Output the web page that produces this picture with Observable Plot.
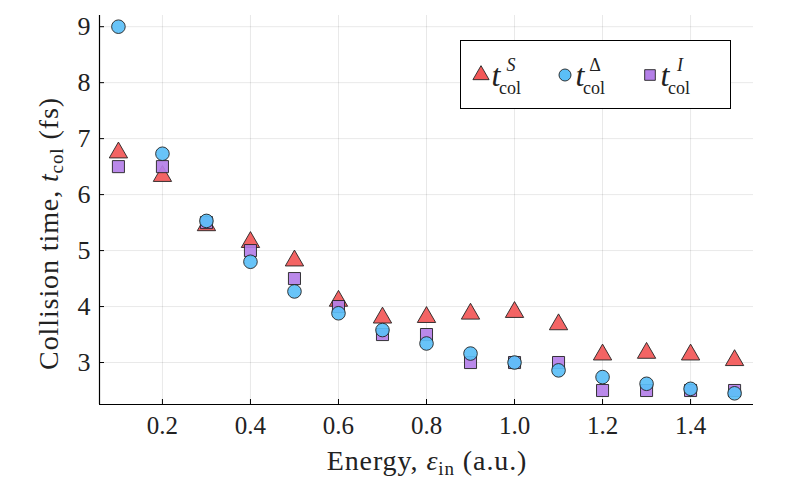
<!DOCTYPE html>
<html>
<head>
<meta charset="utf-8">
<script src="https://cdn.jsdelivr.net/npm/d3@7"></script>
<script src="https://cdn.jsdelivr.net/npm/@observablehq/plot@0.6"></script>
<style>
  html, body { margin: 0; padding: 0; background: #fff; }
  #chart { position: relative; width: 796px; height: 488px; }
  #chart svg text { font-family: "Liberation Serif", "Times New Roman", serif !important; }
</style>
</head>
<body>
<div id="chart"></div>
<script>
const energy = [0.1, 0.2, 0.3, 0.4, 0.5, 0.6, 0.7, 0.8, 0.9, 1.0, 1.1, 1.2, 1.3, 1.4, 1.5];
const tS     = [6.75, 6.33, 5.45, 5.15, 4.82, 4.10, 3.80, 3.81, 3.87, 3.90, 3.68, 3.14, 3.17, 3.14, 3.04];
const tDelta = [9.00, 6.73, 5.53, 4.80, 4.27, 3.88, 3.58, 3.34, 3.16, 3.00, 2.86, 2.74, 2.62, 2.53, 2.45];
const tI     = [6.50, 6.50, 5.50, 5.00, 4.50, 4.00, 3.50, 3.50, 3.00, 3.00, 3.00, 2.50, 2.50, 2.50, 2.50];
const xTicks = [0.2, 0.4, 0.6, 0.8, 1.0, 1.2, 1.4];
const yTicks = [3, 4, 5, 6, 7, 8, 9];

const series = [
  {key: "S", values: tS, symbol: "triangle", fill: "#f25757"},
  {key: "Δ", values: tDelta, symbol: "circle", fill: "#5bbff7"},
  {key: "I", values: tI, symbol: "square", fill: "#b47fe8"}
];
// draw order: triangles, squares, circles
const drawOrder = [series[0], series[2], series[1]];

const FONT = "'Liberation Serif', 'Times New Roman', serif";
const W = 796, H = 488;
const mL = 99, mR = 43, mT = 15, mB = 84;

const plot = Plot.plot({
  width: W,
  height: H,
  marginLeft: mL,
  marginRight: mR,
  marginTop: mT,
  marginBottom: mB,
  style: {fontFamily: FONT, fontSize: "20px", color: "#000", background: "#fff"},
  x: {domain: [0.057, 1.543], label: null},
  y: {domain: [2.25, 9.2], label: null},
  marks: [
    Plot.gridX(xTicks, {stroke: "#000", strokeOpacity: 0.09, strokeWidth: 1}),
    Plot.gridY(yTicks, {stroke: "#000", strokeOpacity: 0.09, strokeWidth: 1}),
    Plot.axisX(xTicks, {tickSize: -5, text: null, stroke: "#000"}),
    Plot.axisY(yTicks, {tickSize: -5, text: null, stroke: "#000"}),
    Plot.axisX(xTicks, {tickSize: 0, tickPadding: 12, tickFormat: d3.format(".1f"), fontSize: 25, fill: "#222"}),
    Plot.axisY(yTicks, {tickSize: 0, tickPadding: 9, tickFormat: d3.format("d"), fontSize: 26, fill: "#222"}),
    Plot.ruleY([2.25], {stroke: "#000", strokeWidth: 1.2}),
    Plot.ruleX([0.057], {stroke: "#000", strokeWidth: 1.2}),
    ...drawOrder.map(s => Plot.dot(energy, {
      x: d => d,
      y: (d, i) => s.values[i],
      symbol: s.symbol,
      r: 6.8,
      fill: s.fill,
      fillOpacity: 0.92,
      stroke: "#222",
      strokeWidth: 0.9
    }))
  ]
});

document.getElementById("chart").appendChild(plot);

const svg = d3.select(plot);

// Axis labels with subscripts
const yl = svg.append("text")
  .attr("transform", `translate(58, ${(mT + (H - mB)) / 2 + 24}) rotate(-90)`)
  .attr("text-anchor", "middle")
  .attr("font-size", 28)
  .attr("letter-spacing", 0.9)
  .attr("fill", "#222");
yl.append("tspan").text("Collision time, ");
yl.append("tspan").attr("font-style", "italic").text("t");
yl.append("tspan").attr("font-size", 19).attr("dy", 5).text("col");
yl.append("tspan").attr("dy", -5).text(" (fs)");

const xl = svg.append("text")
  .attr("transform", `translate(${(mL + (W - mR)) / 2 + 1}, 470)`)
  .attr("text-anchor", "middle")
  .attr("font-size", 28)
  .attr("letter-spacing", 0.9)
  .attr("fill", "#222");
xl.append("tspan").text("Energy, ");
xl.append("tspan").attr("font-style", "italic").text("ε");
xl.append("tspan").attr("font-size", 19).attr("dy", 5).text("in");
xl.append("tspan").attr("dy", -5).text(" (a.u.)");

// Legend
const lg = svg.append("g");
lg.append("rect")
  .attr("x", 460.5).attr("y", 40.5).attr("width", 270).attr("height", 68)
  .attr("fill", "#fff").attr("stroke", "#000").attr("stroke-width", 1);
const entries = [
  {s: series[0], x: 481, sup: "S", supItalic: true},
  {s: series[1], x: 565, sup: "Δ", supItalic: false},
  {s: series[2], x: 650, sup: "I", supItalic: true}
];
const symMap = {triangle: d3.symbolTriangle, circle: d3.symbolCircle, square: d3.symbolSquare};
entries.forEach(e => {
  lg.append("path")
    .attr("transform", `translate(${e.x}, 75)`)
    .attr("d", d3.symbol(symMap[e.s.symbol], Math.PI * 6 * 6)())
    .attr("fill", e.s.fill)
    .attr("stroke", "#222")
    .attr("stroke-width", 0.9);
  const t = lg.append("text")
    .attr("x", e.x + 15).attr("y", 86)
    .attr("font-size", 32)
    .attr("fill", "#222");
  t.append("tspan").attr("font-style", "italic").text("t");
  t.append("tspan").attr("font-size", 18).attr("x", e.x + 30).attr("dy", -15)
    .attr("font-style", e.supItalic ? "italic" : "normal").text(e.sup);
  t.append("tspan").attr("font-size", 18).attr("x", e.x + 29).attr("dy", 23)
    .attr("font-style", "normal").text("col");
});
</script>
</body>
</html>
